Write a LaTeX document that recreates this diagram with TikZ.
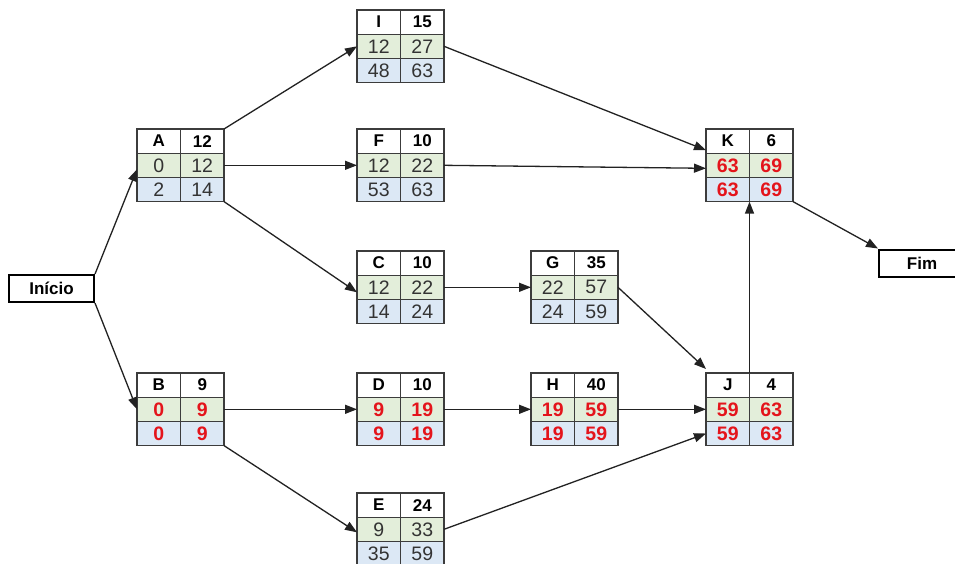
\documentclass[tikz,border=0pt]{standalone}
\usepackage{fontspec}
\setmainfont{Liberation Sans}
\usetikzlibrary{arrows.meta}
\definecolor{gfill}{HTML}{E3EEDA}
\definecolor{bfill}{HTML}{DCE8F5}
\definecolor{bcol}{HTML}{3C3C3C}
\definecolor{ncol}{HTML}{333333}
\definecolor{rcol}{HTML}{E4141B}
\definecolor{acol}{HTML}{222222}
\tikzset{
 actcell/.style={rectangle, draw=bcol, line width=1.1pt, minimum width=43.5pt, minimum height=24.2pt, inner sep=0pt, outer sep=0pt, anchor=north west},
 hcell/.style={actcell, fill=white, font=\fontsize{17}{17}\selectfont\bfseries, text=black},
 gcell/.style={actcell, fill=gfill},
 bcell/.style={actcell, fill=bfill},
 numnorm/.style={font=\fontsize{19.5}{19.5}\selectfont, text=ncol},
 numcrit/.style={font=\fontsize{19.5}{19.5}\selectfont\bfseries, text=rcol},
 actframe/.style={anchor=north west, minimum width=87pt, minimum height=72.6pt, inner sep=0pt, outer sep=0pt},
 endbox/.style={rectangle, draw=black, line width=2pt, minimum height=27pt, inner sep=0pt, font=\fontsize{17}{17}\selectfont\bfseries},
 arr/.style={draw=acol, line width=1.3pt, -{Triangle[length=12pt,width=9pt]}},
}
\newcommand{\actbox}[9]{%
 \node[actframe] (#1) at #2 {};
 \node[hcell] (#1-h1) at (#1.north west) {#3};
 \node[hcell] (#1-h2) at ([xshift=43.5pt]#1.north west) {#4};
 \node[gcell,#9] (#1-es) at ([yshift=-24.2pt]#1.north west) {#5};
 \node[gcell,#9] (#1-ef) at ([xshift=43.5pt,yshift=-24.2pt]#1.north west) {#6};
 \node[bcell,#9] (#1-ls) at ([yshift=-48.4pt]#1.north west) {#7};
 \node[bcell,#9] (#1-lf) at ([xshift=43.5pt,yshift=-48.4pt]#1.north west) {#8};
}
\begin{document}
\begin{tikzpicture}[x=1pt,y=-1pt]
\useasboundingbox (0,0) rectangle (955,563);
\fill[white] (0,0) rectangle (955,563);

\actbox{I}{(357,10)}{I}{15}{12}{27}{48}{63}{numnorm}
\actbox{A}{(137,129)}{A}{12}{0}{12}{2}{14}{numnorm}
\actbox{F}{(357,129)}{F}{10}{12}{22}{53}{63}{numnorm}
\actbox{K}{(706,129)}{K}{6}{63}{69}{63}{69}{numcrit}
\actbox{C}{(357,251)}{C}{10}{12}{22}{14}{24}{numnorm}
\actbox{G}{(531,251)}{G}{35}{22}{57}{24}{59}{numnorm}
\actbox{B}{(137,373)}{B}{9}{0}{9}{0}{9}{numcrit}
\actbox{D}{(357,373)}{D}{10}{9}{19}{9}{19}{numcrit}
\actbox{H}{(531,373)}{H}{40}{19}{59}{19}{59}{numcrit}
\actbox{J}{(706,373)}{J}{4}{59}{63}{59}{63}{numcrit}
\actbox{E}{(357,493)}{E}{24}{9}{33}{35}{59}{numnorm}

\node[endbox, minimum width=85pt] (ini) at (51.5,288.5) {Início};
\node[endbox, minimum width=86pt] (fim) at (922,263) {Fim};

\draw[arr] (ini.north east) -- ([yshift=-4pt]A-es.west);
\draw[arr] (ini.south east) -- (B-es.west);
\draw[arr] (A.north east) -- (I-es.west);
\draw[arr] (A-ef.east) -- (F-es.west);
\draw[arr] (A.south east) -- ([yshift=-5pt]C-es.west);
\draw[arr] (I-ef.east) -- ([yshift=3pt]K-es.north west);
\draw[arr] (F-ef.east) -- ([yshift=-3pt]K-es.west);
\draw[arr] (C-ef.east) -- (G-es.west);
\draw[arr] (G-ef.east) -- ([yshift=4pt]J.north west);
\draw[arr] (B-ef.east) -- (D-es.west);
\draw[arr] (D-ef.east) -- (H-es.west);
\draw[arr] (H-ef.east) -- (J-es.west);
\draw[arr] (B.south east) -- ([yshift=-3pt]E-es.west);
\draw[arr] (E-ef.east) -- (J-ls.west);
\draw[arr] (J.north) -- (K.south);
\draw[arr] (K.south east) -- (fim.north west);
\end{tikzpicture}
\end{document}
